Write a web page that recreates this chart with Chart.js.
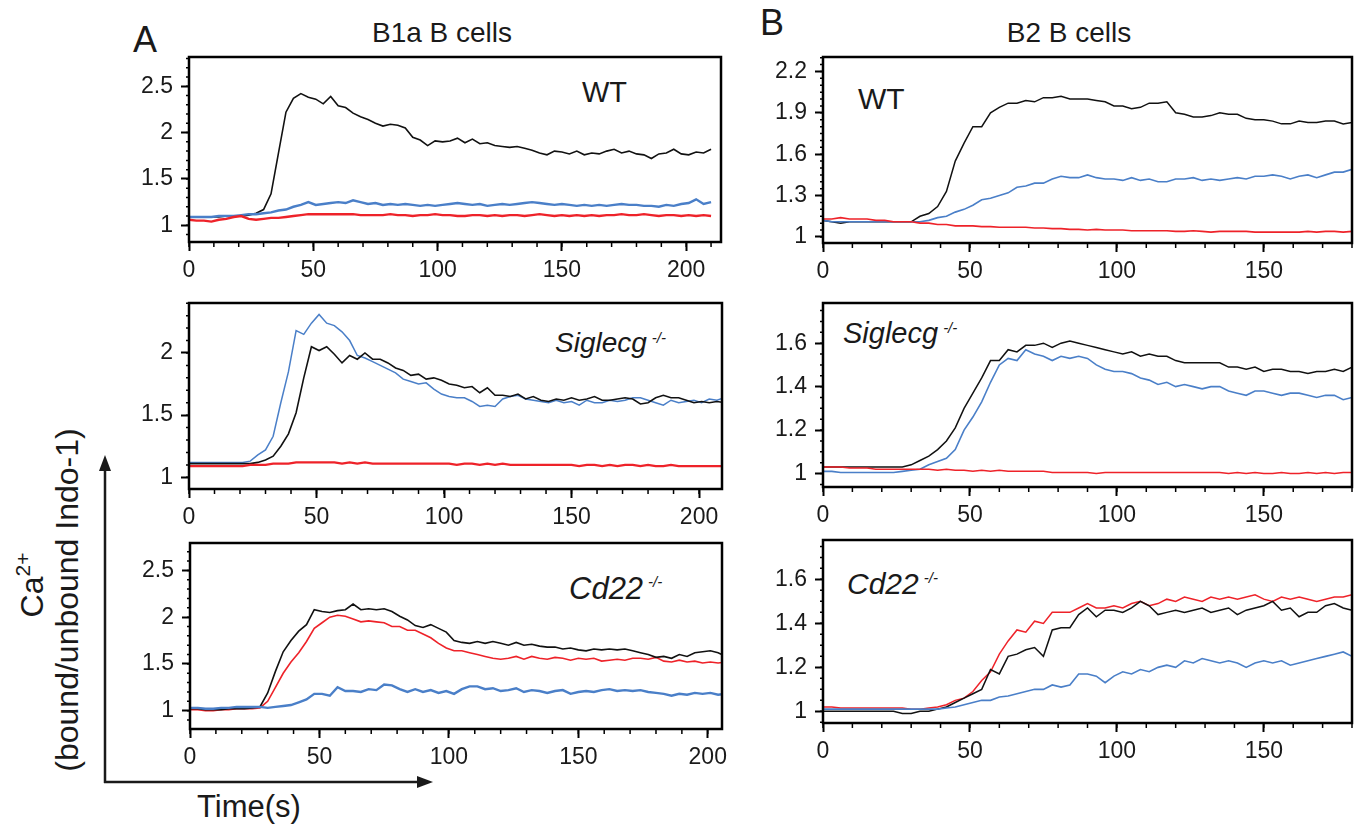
<!DOCTYPE html>
<html>
<head>
<meta charset="utf-8">
<script src="https://cdn.jsdelivr.net/npm/chart.js@4.4.1/dist/chart.umd.min.js"></script>
<style>
  body { margin: 0; width: 1360px; height: 825px; overflow: hidden; background: #fff; position: relative;
         font-family: "Liberation Sans", Arial, sans-serif; color: #1a1a1a; }
  canvas { position: absolute; }
  .t { position: absolute; white-space: nowrap; line-height: 1; }
  .c { transform: translateX(-50%); }
  .rot { transform: translate(-50%, -50%) rotate(-90deg); }
  .lab { font-style: italic; }
  .lab sup { font-size: 15px; vertical-align: top; position: relative; top: 1px; margin-left: 5px; }
  svg { position: absolute; left: 0; top: 0; }
</style>
</head>
<body>

<div class="t" style="left:133px;top:22px;font-size:36px">A</div>
<div class="t" style="left:760px;top:5px;font-size:36px">B</div>
<div class="t c" style="left:442px;top:19px;font-size:28px">B1a B cells</div>
<div class="t c" style="left:1069px;top:19px;font-size:28px">B2 B cells</div>

<div class="t" style="left:582px;top:78px;font-size:29px">WT</div>
<div class="t lab" style="left:555px;top:329px;font-size:28px">Siglecg<sup>-/-</sup></div>
<div class="t lab" style="left:569px;top:573px;font-size:31px">Cd22<sup>-/-</sup></div>
<div class="t" style="left:858px;top:84px;font-size:30px">WT</div>
<div class="t lab" style="left:843px;top:319px;font-size:29px">Siglecg<sup>-/-</sup></div>
<div class="t lab" style="left:847px;top:569px;font-size:30px">Cd22<sup>-/-</sup></div>

<div class="t rot" style="left:30px;top:585px;font-size:32px">Ca<span style="font-size:21px;vertical-align:0.62em">2+</span></div>
<div class="t rot" style="left:67px;top:600px;font-size:32px">(bound/unbound Indo-1)</div>
<div class="t" style="left:197px;top:791px;font-size:31px">Time(s)</div>

<svg width="1360" height="825">
  <line x1="105" y1="783" x2="105" y2="466" stroke="#1a1a1a" stroke-width="2.5"/>
  <polygon points="105,455 99,471 111,471" fill="#1a1a1a"/>
  <line x1="104" y1="782" x2="420" y2="782" stroke="#1a1a1a" stroke-width="2.5"/>
  <polygon points="433,782 417,776 417,788" fill="#1a1a1a"/>
</svg>

<script>
// sample times (s)
const tA = [0,3,6,9,12,15,18,21,24,27,30,33,36,39,42,45,48,51,54,57,60,63,66,69,72,75,78,81,84,87,
  90,93,96,99,102,105,108,111,114,117,120,123,126,129,132,135,138,141,144,147,150,153,156,159,162,165,168,171,174,177,
  180,183,186,189,192,195,198,201,204,207,210];
const tB = [0,3,6,9,12,15,18,21,24,27,30,33,36,39,42,45,48,51,54,57,60,63,66,69,72,75,78,81,84,87,
  90,93,96,99,102,105,108,111,114,117,120,123,126,129,132,135,138,141,144,147,150,153,156,159,162,165,168,171,174,177,180];

// tick labels
const xTicksA = [0, 50, 100, 150, 200];
const xTicksB = [0, 50, 100, 150];
const yTicksA1 = [1, 1.5, 2, 2.5];
const yTicksA2 = [1, 1.5, 2];
const yTicksA3 = [1, 1.5, 2, 2.5];
const yTicksB1 = [1, 1.3, 1.6, 1.9, 2.2];
const yTicksB2 = [1, 1.2, 1.4, 1.6];
const yTicksB3 = [1, 1.2, 1.4, 1.6];

// A: B1a B cells, WT
const a1Black = [1.09,1.09,1.09,1.09,1.09,1.10,1.10,1.10,1.11,1.13,
  1.17,1.34,1.78,2.22,2.37,2.42,2.38,2.36,2.31,2.39,
  2.29,2.27,2.21,2.17,2.14,2.10,2.07,2.09,2.08,2.05,
  1.95,1.92,1.86,1.91,1.90,1.91,1.94,1.89,1.93,1.88,
  1.89,1.86,1.85,1.84,1.85,1.83,1.81,1.78,1.76,1.80,
  1.79,1.77,1.80,1.76,1.78,1.77,1.80,1.82,1.78,1.80,
  1.77,1.76,1.72,1.77,1.78,1.82,1.77,1.76,1.79,1.78,1.82];
const a1Blue = [1.09,1.09,1.09,1.09,1.10,1.10,1.10,1.11,1.12,1.12,
  1.13,1.14,1.16,1.17,1.20,1.22,1.25,1.22,1.23,1.24,
  1.25,1.24,1.27,1.25,1.23,1.24,1.22,1.23,1.22,1.23,
  1.22,1.21,1.22,1.21,1.22,1.23,1.24,1.23,1.22,1.23,
  1.21,1.22,1.23,1.22,1.23,1.24,1.25,1.24,1.23,1.22,
  1.23,1.22,1.21,1.22,1.21,1.22,1.21,1.22,1.23,1.22,
  1.22,1.21,1.21,1.20,1.22,1.21,1.23,1.24,1.28,1.23,1.25];
const a1Red = [1.06,1.05,1.05,1.04,1.06,1.07,1.09,1.10,1.07,1.06,
  1.07,1.08,1.08,1.09,1.10,1.11,1.12,1.12,1.12,1.12,
  1.12,1.12,1.12,1.11,1.11,1.11,1.11,1.12,1.11,1.11,
  1.10,1.11,1.11,1.12,1.11,1.11,1.10,1.10,1.11,1.11,
  1.10,1.11,1.10,1.11,1.11,1.10,1.11,1.12,1.11,1.10,
  1.11,1.10,1.11,1.10,1.11,1.10,1.11,1.11,1.12,1.11,
  1.11,1.12,1.11,1.10,1.11,1.11,1.10,1.11,1.10,1.11,1.10];

// A: B1a B cells, Siglecg-/-
const a2Black = [1.11,1.11,1.11,1.11,1.11,1.11,1.11,1.11,1.11,1.12,
  1.14,1.17,1.25,1.35,1.52,1.80,2.05,2.02,2.05,1.99,
  1.92,1.98,1.95,2.00,1.95,1.95,1.92,1.88,1.86,1.82,
  1.83,1.79,1.80,1.78,1.75,1.74,1.72,1.73,1.68,1.72,
  1.66,1.66,1.65,1.67,1.63,1.65,1.62,1.61,1.63,1.62,
  1.64,1.62,1.63,1.65,1.62,1.62,1.63,1.64,1.63,1.59,
  1.60,1.64,1.66,1.64,1.64,1.62,1.60,1.61,1.60,1.61,1.60];
const a2Blue = [1.12,1.12,1.12,1.12,1.12,1.12,1.12,1.12,1.13,1.18,
  1.22,1.33,1.60,1.85,2.18,2.15,2.24,2.31,2.24,2.22,
  2.17,2.10,1.98,1.96,1.93,1.90,1.87,1.84,1.79,1.77,
  1.75,1.76,1.71,1.67,1.65,1.64,1.64,1.61,1.57,1.58,
  1.57,1.63,1.65,1.66,1.63,1.62,1.61,1.60,1.62,1.60,
  1.61,1.58,1.62,1.60,1.60,1.62,1.61,1.62,1.64,1.64,
  1.62,1.60,1.58,1.62,1.60,1.61,1.62,1.60,1.63,1.62,1.64];
const a2Red = [1.09,1.09,1.09,1.09,1.09,1.09,1.09,1.09,1.10,1.10,
  1.10,1.11,1.11,1.11,1.12,1.12,1.12,1.12,1.12,1.12,
  1.11,1.12,1.11,1.12,1.11,1.11,1.11,1.11,1.11,1.11,
  1.11,1.11,1.11,1.11,1.11,1.10,1.11,1.11,1.10,1.11,
  1.10,1.11,1.10,1.10,1.10,1.10,1.10,1.10,1.10,1.10,
  1.10,1.09,1.10,1.10,1.09,1.10,1.09,1.10,1.10,1.09,
  1.10,1.09,1.09,1.10,1.09,1.09,1.09,1.09,1.09,1.09,1.09];

// A: B1a B cells, Cd22-/-
const a3Black = [1.02,1.02,1.01,1.01,1.01,1.02,1.02,1.02,1.03,1.04,
  1.19,1.42,1.63,1.75,1.85,1.92,2.08,2.06,2.05,2.07,
  2.08,2.14,2.08,2.09,2.08,2.09,2.06,2.01,1.97,1.91,
  1.89,1.92,1.88,1.84,1.75,1.73,1.72,1.74,1.72,1.74,
  1.72,1.70,1.73,1.70,1.71,1.69,1.68,1.68,1.66,1.67,
  1.65,1.64,1.66,1.65,1.66,1.65,1.66,1.64,1.62,1.60,
  1.57,1.58,1.56,1.60,1.58,1.62,1.63,1.64,1.62,1.58,1.58];
const a3Red = [1.01,1.01,1.00,1.00,1.01,1.01,1.02,1.02,1.02,1.03,
  1.10,1.25,1.40,1.52,1.62,1.74,1.88,1.94,2.00,2.02,
  2.01,1.98,1.95,1.96,1.95,1.94,1.90,1.90,1.86,1.86,
  1.82,1.78,1.72,1.67,1.64,1.64,1.62,1.60,1.58,1.56,
  1.55,1.56,1.58,1.55,1.58,1.56,1.55,1.57,1.56,1.54,
  1.56,1.55,1.56,1.53,1.54,1.55,1.54,1.56,1.56,1.55,
  1.57,1.53,1.52,1.54,1.52,1.53,1.51,1.52,1.51,1.52,1.52];
const a3Blue = [1.03,1.03,1.02,1.02,1.03,1.03,1.04,1.04,1.04,1.04,
  1.03,1.04,1.05,1.06,1.09,1.12,1.18,1.18,1.16,1.25,
  1.21,1.21,1.20,1.23,1.22,1.28,1.27,1.23,1.20,1.23,
  1.20,1.22,1.19,1.21,1.18,1.23,1.26,1.26,1.23,1.24,
  1.21,1.22,1.24,1.20,1.22,1.21,1.19,1.21,1.22,1.18,
  1.20,1.21,1.20,1.22,1.23,1.21,1.22,1.21,1.22,1.20,
  1.19,1.18,1.16,1.18,1.17,1.19,1.18,1.19,1.17,1.18,1.18];

// B: B2 B cells, WT
const b1Black = [1.12,1.11,1.10,1.11,1.11,1.11,1.11,1.11,1.11,1.11,
  1.11,1.15,1.17,1.22,1.33,1.55,1.68,1.80,1.80,1.90,
  1.94,1.97,1.97,1.99,1.98,2.01,2.01,2.02,2.00,2.00,
  2.00,1.99,1.98,1.95,1.95,1.93,1.94,1.97,1.97,1.98,
  1.90,1.89,1.87,1.87,1.88,1.90,1.89,1.89,1.86,1.85,
  1.85,1.84,1.82,1.82,1.84,1.83,1.83,1.84,1.84,1.82,1.83];
const b1Blue = [1.12,1.11,1.11,1.11,1.11,1.11,1.11,1.11,1.11,1.11,
  1.11,1.11,1.12,1.14,1.15,1.18,1.20,1.23,1.27,1.28,
  1.30,1.32,1.36,1.37,1.39,1.39,1.42,1.44,1.43,1.43,
  1.45,1.43,1.42,1.42,1.41,1.43,1.41,1.42,1.40,1.40,
  1.42,1.42,1.43,1.41,1.42,1.41,1.42,1.43,1.42,1.44,
  1.44,1.45,1.44,1.42,1.44,1.45,1.43,1.45,1.47,1.47,1.49];
const b1Red = [1.13,1.13,1.14,1.13,1.13,1.13,1.12,1.12,1.11,1.11,
  1.11,1.10,1.10,1.09,1.09,1.08,1.08,1.08,1.075,1.075,
  1.07,1.07,1.07,1.07,1.065,1.065,1.06,1.06,1.055,1.055,
  1.05,1.055,1.05,1.05,1.05,1.045,1.045,1.045,1.045,1.045,
  1.04,1.04,1.045,1.04,1.035,1.04,1.04,1.04,1.04,1.035,
  1.035,1.035,1.035,1.035,1.035,1.04,1.035,1.04,1.04,1.035,1.04];

// B: B2 B cells, Siglecg-/-
const b2Black = [1.03,1.03,1.03,1.03,1.03,1.03,1.03,1.03,1.03,1.03,
  1.04,1.06,1.08,1.11,1.15,1.21,1.30,1.37,1.44,1.52,
  1.52,1.57,1.56,1.59,1.59,1.60,1.58,1.60,1.61,1.60,
  1.59,1.58,1.57,1.56,1.55,1.56,1.54,1.55,1.54,1.54,
  1.52,1.51,1.51,1.51,1.51,1.51,1.49,1.49,1.48,1.49,
  1.47,1.48,1.48,1.47,1.47,1.46,1.47,1.47,1.48,1.47,1.49];
const b2Blue = [1.01,1.01,1.005,1.005,1.005,1.005,1.005,1.005,1.005,1.01,
  1.015,1.02,1.04,1.055,1.07,1.11,1.20,1.26,1.33,1.42,
  1.50,1.53,1.52,1.57,1.55,1.54,1.52,1.54,1.53,1.54,
  1.53,1.50,1.48,1.47,1.47,1.46,1.44,1.43,1.41,1.42,
  1.40,1.41,1.40,1.39,1.40,1.40,1.38,1.37,1.36,1.38,
  1.38,1.37,1.36,1.37,1.37,1.36,1.35,1.36,1.36,1.34,1.35];
const b2Red = [1.03,1.03,1.03,1.025,1.025,1.025,1.02,1.02,1.02,1.02,
  1.02,1.02,1.02,1.015,1.02,1.015,1.015,1.01,1.015,1.01,
  1.015,1.01,1.01,1.01,1.01,1.01,1.005,1.005,1.005,1.005,
  1.005,1.00,1.005,1.005,1.005,1.005,1.005,1.005,1.005,1.005,
  1.005,1.005,1.005,1.005,1.005,1.005,1.00,1.005,1.00,1.005,
  1.00,1.00,1.005,1.00,1.00,1.005,1.00,1.005,1.00,1.005,1.005];

// B: B2 B cells, Cd22-/-
const b3Red = [1.02,1.02,1.015,1.015,1.015,1.015,1.015,1.015,1.015,1.015,
  1.01,1.01,1.015,1.02,1.03,1.05,1.06,1.09,1.14,1.18,
  1.26,1.32,1.37,1.36,1.41,1.40,1.45,1.45,1.45,1.47,
  1.49,1.47,1.47,1.48,1.47,1.49,1.50,1.48,1.49,1.51,
  1.50,1.52,1.51,1.50,1.52,1.51,1.52,1.51,1.52,1.53,
  1.51,1.50,1.52,1.51,1.52,1.51,1.50,1.51,1.52,1.52,1.53];
const b3Black = [1.00,1.00,1.00,1.00,1.00,1.00,1.00,1.00,1.00,0.99,
  0.99,1.00,1.00,1.01,1.02,1.04,1.06,1.08,1.10,1.19,
  1.17,1.25,1.26,1.28,1.29,1.25,1.37,1.38,1.38,1.44,
  1.47,1.43,1.46,1.46,1.45,1.47,1.50,1.48,1.44,1.45,
  1.46,1.45,1.46,1.47,1.45,1.46,1.47,1.44,1.46,1.47,
  1.48,1.50,1.46,1.47,1.43,1.45,1.45,1.48,1.49,1.47,1.46];
const b3Blue = [1.01,1.01,1.01,1.01,1.01,1.01,1.01,1.01,1.01,1.01,
  1.01,1.01,1.01,1.01,1.015,1.02,1.03,1.04,1.05,1.05,
  1.065,1.07,1.08,1.09,1.10,1.10,1.12,1.11,1.12,1.17,
  1.17,1.16,1.13,1.16,1.18,1.17,1.19,1.18,1.20,1.21,
  1.20,1.23,1.22,1.24,1.23,1.22,1.23,1.22,1.20,1.22,
  1.23,1.22,1.23,1.21,1.22,1.23,1.24,1.25,1.26,1.27,1.25];

const BLACK = '#111111', BLUE = '#4a7fc8', RED = '#ee2229';
const FONT = '"Liberation Sans", Arial, sans-serif';

// frame box and minor tick marks, drawn from the chart's own scales
const frameAndMinorTicks = {
  id: 'frameAndMinorTicks',
  afterDraw(chart, args, opts) {
    const { ctx, chartArea: a } = chart;
    const xs = chart.scales.x, ys = chart.scales.y;
    ctx.save();
    ctx.strokeStyle = '#000';
    ctx.lineWidth = 1.5;
    ctx.beginPath();
    for (let i = 0; i * opts.xMinor <= xs.max + 1e-6; i++) {
      const px = xs.getPixelForValue(i * opts.xMinor);
      ctx.moveTo(px, a.bottom);
      ctx.lineTo(px, a.bottom + 5);
    }
    const i0 = Math.ceil(ys.min / opts.yMinor - 1e-6);
    const i1 = Math.floor(ys.max / opts.yMinor + 1e-6);
    for (let i = i0; i <= i1; i++) {
      const py = ys.getPixelForValue(i * opts.yMinor);
      ctx.moveTo(a.left, py);
      ctx.lineTo(a.left - 3, py);
    }
    ctx.stroke();
    ctx.lineWidth = 2.5;
    ctx.strokeRect(a.left, a.top, a.right - a.left, a.bottom - a.top);
    ctx.restore();
  }
};

const panels = [
  { frame: [189, 57, 721, 242], xMax: 214, yMin: 0.82, yMax: 2.815, xTicks: xTicksA, yTicks: yTicksA1, yMinor: 0.1,
    t: tA, series: [[a1Red, RED, 2.4], [a1Blue, BLUE, 2.4], [a1Black, BLACK, 1.6]] },
  { frame: [189, 303, 722, 489], xMax: 209, yMin: 0.906, yMax: 2.402, xTicks: xTicksA, yTicks: yTicksA2, yMinor: 0.1,
    t: tA, series: [[a2Red, RED, 2.4], [a2Black, BLACK, 1.6], [a2Blue, BLUE, 1.5]] },
  { frame: [190, 543, 722, 729], xMax: 205.5, yMin: 0.804, yMax: 2.793, xTicks: xTicksA, yTicks: yTicksA3, yMinor: 0.1,
    t: tA, series: [[a3Blue, BLUE, 2.4], [a3Black, BLACK, 1.6], [a3Red, RED, 1.6]] },
  { frame: [823, 57, 1352, 243], xMax: 180, yMin: 0.956, yMax: 2.305, xTicks: xTicksB, yTicks: yTicksB1, yMinor: 0.05,
    t: tB, series: [[b1Red, RED, 1.6], [b1Blue, BLUE, 1.6], [b1Black, BLACK, 1.5]] },
  { frame: [823, 303, 1352, 487], xMax: 180, yMin: 0.938, yMax: 1.785, xTicks: xTicksB, yTicks: yTicksB2, yMinor: 0.05,
    t: tB, series: [[b2Red, RED, 1.5], [b2Blue, BLUE, 1.6], [b2Black, BLACK, 1.5]] },
  { frame: [823, 540, 1352, 723], xMax: 180, yMin: 0.947, yMax: 1.779, xTicks: xTicksB, yTicks: yTicksB3, yMinor: 0.05,
    t: tB, series: [[b3Blue, BLUE, 1.6], [b3Black, BLACK, 1.5], [b3Red, RED, 1.5]] }
];

const AXIS_W = 80, AXIS_H = 52, PAD_T = 6, PAD_R = 12;

// keep the chart area exactly where the frame should be
function fixSize(prop, size) {
  return s => {
    s[prop] = size;
    s.paddingTop = 0; s.paddingBottom = 0; s.paddingLeft = 0; s.paddingRight = 0;
  };
}

panels.forEach(p => {
  const [l, t, r, b] = p.frame;
  const canvas = document.createElement('canvas');
  const w = r - l + AXIS_W + PAD_R, h = b - t + AXIS_H + PAD_T;
  canvas.width = w; canvas.height = h;
  canvas.style.width = w + 'px'; canvas.style.height = h + 'px';
  canvas.style.left = (l - AXIS_W) + 'px'; canvas.style.top = (t - PAD_T) + 'px';
  document.body.appendChild(canvas);

  new Chart(canvas.getContext('2d'), {
    type: 'line',
    data: {
      datasets: p.series.map(([vals, color, width]) => ({
        data: p.t.map((x, i) => ({ x, y: vals[i] })),
        borderColor: color,
        borderWidth: width,
        pointRadius: 0,
        tension: 0,
        fill: false
      }))
    },
    options: {
      responsive: false,
      animation: false,
      devicePixelRatio: 1,
      layout: { padding: { top: PAD_T, right: PAD_R, left: 0, bottom: 0 } },
      plugins: {
        legend: { display: false },
        tooltip: { enabled: false },
        frameAndMinorTicks: { xMinor: 10, yMinor: p.yMinor }
      },
      scales: {
        x: {
          type: 'linear', min: 0, max: p.xMax,
          afterBuildTicks: s => { s.ticks = p.xTicks.map(v => ({ value: v })); },
          afterFit: fixSize('height', AXIS_H),
          ticks: { font: { family: FONT, size: 23 }, color: '#1a1a1a', padding: 6,
                   maxRotation: 0, autoSkip: false, callback: v => String(v) },
          grid: { drawOnChartArea: false, drawTicks: true, tickLength: 9, tickColor: '#000', tickWidth: 2 },
          border: { display: false }
        },
        y: {
          type: 'linear', min: p.yMin, max: p.yMax,
          afterBuildTicks: s => { s.ticks = p.yTicks.map(v => ({ value: v })); },
          afterFit: fixSize('width', AXIS_W),
          ticks: { font: { family: FONT, size: 23 }, color: '#1a1a1a', padding: 8,
                   autoSkip: false, callback: v => String(v) },
          grid: { drawOnChartArea: false, drawTicks: true, tickLength: 8, tickColor: '#000', tickWidth: 2 },
          border: { display: false }
        }
      }
    },
    plugins: [frameAndMinorTicks]
  });
});
</script>
</body>
</html>
